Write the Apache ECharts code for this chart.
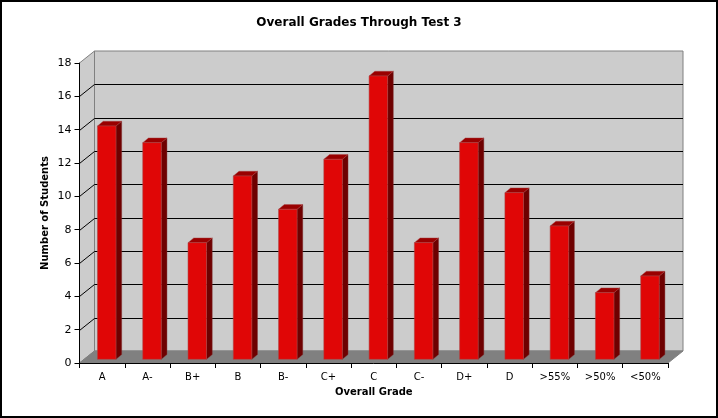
<!DOCTYPE html>
<html><head><meta charset="utf-8">
<style>html,body{margin:0;padding:0;background:#fff}#c{width:718px;height:418px}</style>
<script src="https://cdn.jsdelivr.net/npm/echarts@6/dist/echarts.min.js"></script>
</head><body><div id="c"></div>
<script>
var categories = ['A','A-','B+','B','B-','C+','C','C-','D+','D','>55%','>50%','<50%'];
var students = [14,13,7,11,9,12,17,7,13,10,8,4,5];
var yTicks = [0,2,4,6,8,10,12,14,16,18];
var FONT = '"DejaVu Sans", Verdana, sans-serif';
var DX = 15, DY = -12;
var chart = echarts.init(document.getElementById('c'), null, {renderer:'canvas'});

function wallItem(params, api){
  var cs = params.coordSys;
  var l = cs.x, r = cs.x + cs.width, b = cs.y + cs.height, t = cs.y;
  return {type:'group', silent:true, children:[
    {type:'polygon', shape:{points:[[l+DX,t+DY],[r+DX,t+DY],[r+DX,b+DY],[l+DX,b+DY]]}, style:{fill:'#cccccc',stroke:'#808080',lineWidth:1}},
    {type:'polygon', shape:{points:[[l,t],[l+DX,t+DY],[l+DX,b+DY],[l,b]]}, style:{fill:'#cccccc',stroke:'#808080',lineWidth:1}},
    {type:'polygon', shape:{points:[[l,b],[l+DX,b+DY],[r+DX,b+DY],[r,b]]}, style:{fill:'#808080',stroke:'#808080',lineWidth:1}}
  ]};
}
function gridItem(params, api){
  var v = api.value(0);
  if (v === 0 || v === 18) return null;
  var cs = params.coordSys;
  var y = Math.round(api.coord([0, v])[1]) + 0.5;
  var l = cs.x, r = cs.x + cs.width;
  var by = Math.round(y + DY) - 0.5;
  return {type:'polyline', silent:true, shape:{points:[[l,y],[l+DX,by],[r+DX,by]]}, style:{fill:'none',stroke:'#000',lineWidth:1}};
}
function barItem(params, api){
  var i = api.value(0), v = api.value(1);
  var c = api.coord([i, v]), c0 = api.coord([i, 0]);
  var w = 18.5, sx = 4.6, sy = -3.7, dx = 5.7, dy = -4.7;
  var x0 = c[0] + sx - w/2, x1 = x0 + w;
  var yt = c[1] + sy, yb = c0[1] + sy;
  var edge = 'rgba(170,70,70,0.7)';
  return {type:'group', children:[
    {type:'polygon', shape:{points:[[x1,yt],[x1+dx,yt+dy],[x1+dx,yb+dy],[x1,yb]]}, style:{fill:'#6e0000',stroke:'rgba(130,50,50,0.7)',lineWidth:0.6}},
    {type:'polygon', shape:{points:[[x0,yt],[x0+dx,yt+dy],[x1+dx,yt+dy],[x1,yt]]}, style:{fill:'#990000',stroke:edge,lineWidth:0.6}},
    {type:'rect', shape:{x:x0,y:yt,width:w,height:yb-yt}, style:{fill:'#e00606',stroke:edge,lineWidth:0.8}}
  ]};
}
chart.setOption({
  animation:false,
  backgroundColor:'#fff',
  title:{text:'Overall Grades Through Test 3', left:'center', top:12, textStyle:{fontFamily:FONT,fontSize:12,fontWeight:'bold',color:'#000'}},
  grid:{left:79.5,right:50,top:63,bottom:55,containLabel:false},
  xAxis:{type:'category',z:10,data:categories,boundaryGap:true,name:'Overall Grade',nameLocation:'middle',nameGap:24,nameMoveOverlap:false,
    nameTextStyle:{fontFamily:FONT,fontSize:10,fontWeight:'bold',color:'#000'},
    axisLine:{show:true,lineStyle:{color:'#000',width:1}},axisTick:{show:true,length:5,alignWithLabel:false,lineStyle:{color:'#000'}},
    axisLabel:{interval:0,fontFamily:FONT,fontSize:10,color:'#000',margin:9},splitLine:{show:false}},
  yAxis:{type:'value',z:10,min:0,max:18,interval:2,name:'Number of Students',nameLocation:'middle',nameGap:29,nameRotate:90,nameMoveOverlap:false,
    nameTextStyle:{fontFamily:FONT,fontSize:10,fontWeight:'bold',color:'#000'},
    axisLine:{show:true,lineStyle:{color:'#000',width:1}},axisTick:{show:true,length:5,lineStyle:{color:'#000'}},
    axisLabel:{fontFamily:FONT,fontSize:11,color:'#000',margin:8},splitLine:{show:false}},
  graphic:[{type:'rect',shape:{x:1,y:1,width:716,height:416},style:{fill:'none',stroke:'#000',lineWidth:2},z:100,silent:true}],
  series:[
    {type:'custom',renderItem:wallItem,data:[[0]],z:1,silent:true,clip:false,encode:{x:0}},
    {type:'custom',renderItem:gridItem,data:yTicks.map(function(t){return [t];}),z:2,silent:true,clip:false,encode:{y:0}},
    {type:'custom',renderItem:barItem,data:students.map(function(v,i){return [i,v];}),z:3,clip:false,encode:{x:0,y:1}}
  ]
});
</script></body></html>
